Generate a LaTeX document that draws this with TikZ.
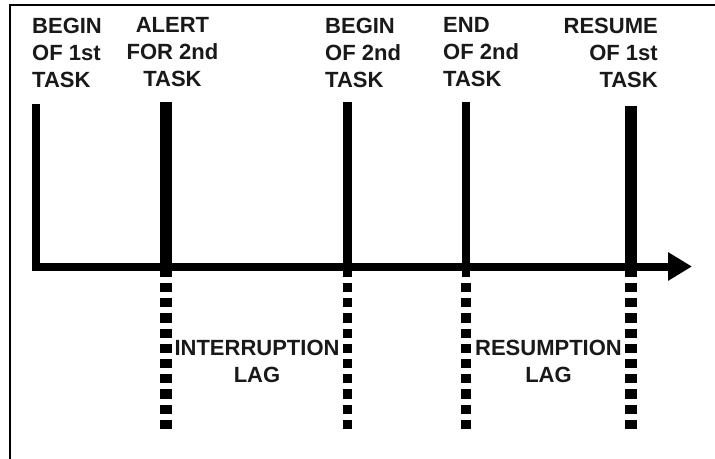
\documentclass[tikz,border=0pt]{standalone}
\usepackage{fontspec}
\setmainfont{Liberation Sans}
\usetikzlibrary{arrows.meta}
\begin{document}
\begin{tikzpicture}[x=1pt,y=-1pt,
  lbl/.style={font=\fontsize{22}{27}\selectfont\bfseries, inner sep=0pt, text=black!90},
  frameline/.style={line width=2pt, black},
  solidmark/.style={line width=#1, black},
  lagmark/.style={line width=#1, black, dash pattern=on 9.2pt off 6pt},
  timeaxis/.style={line width=8pt, black, line join=miter,
    -{Triangle[length=24pt,width=27pt]}}]
\useasboundingbox (0,0) rectangle (715,458);

% open frame (left and top edges)
\coordinate (fbl) at (10,470);
\coordinate (ftl) at (10,5);
\coordinate (ftr) at (725,5);
\draw[frameline] (fbl) -- (ftl) -- (ftr);

% event markers: top ends, foot of solid part, start and end of dotted part
\coordinate (m1top) at (36,104);
\coordinate (corner) at (36,266.5);
\coordinate (axisend) at (692,266.5);

\coordinate (m2top) at (166,102);  \coordinate (m2mid) at (166,277);
\coordinate (m2d) at (166,283);    \coordinate (m2bot) at (166,430);
\coordinate (m3top) at (347.5,102);\coordinate (m3mid) at (347.5,277);
\coordinate (m3d) at (347.5,283);  \coordinate (m3bot) at (347.5,430);
\coordinate (m4top) at (466,102);  \coordinate (m4mid) at (466,277);
\coordinate (m4d) at (466,283);    \coordinate (m4bot) at (466,430);
\coordinate (m5top) at (631,106);  \coordinate (m5mid) at (631,277);
\coordinate (m5d) at (631,283);    \coordinate (m5bot) at (631,432);

% first task start and the time axis
\draw[timeaxis] (m1top) -- (corner) -- (axisend);

% solid parts of the markers
\draw[solidmark=11.5pt] (m2top) -- (m2mid);
\draw[solidmark=8.5pt]  (m3top) -- (m3mid);
\draw[solidmark=8.5pt]  (m4top) -- (m4mid);
\draw[solidmark=11.5pt] (m5top) -- (m5mid);

% dotted parts below the axis
\draw[lagmark=11.5pt] (m2d) -- (m2bot);
\draw[lagmark=8.5pt]  (m3d) -- (m3bot);
\draw[lagmark=10pt]   (m4d) -- (m4bot);
\draw[lagmark=11.5pt] (m5d) -- (m5bot);

% event labels
\node[lbl, anchor=north west, align=left] (l1) at (32,17.5) {BEGIN\\OF 1st\\TASK};
\node[lbl, anchor=north, align=center] (l2) at (172.5,17.5) {ALERT\\FOR 2nd\\TASK};
\node[lbl, anchor=north west, align=left] (l3) at (325,17.5) {BEGIN\\OF 2nd\\TASK};
\node[lbl, anchor=north west, align=left] (l4) at (443,17.5) {END\\OF 2nd\\TASK};
\node[lbl, anchor=north east, align=right] (l5) at (658,17.5) {RESUME\\OF 1st\\TASK};

% lag labels
\node[lbl, anchor=north, align=center] (lag1) at (257,340) {INTERRUPTION\\LAG};
\node[lbl, anchor=north, align=center] (lag2) at (548.5,340) {RESUMPTION\\LAG};
\end{tikzpicture}
\end{document}
